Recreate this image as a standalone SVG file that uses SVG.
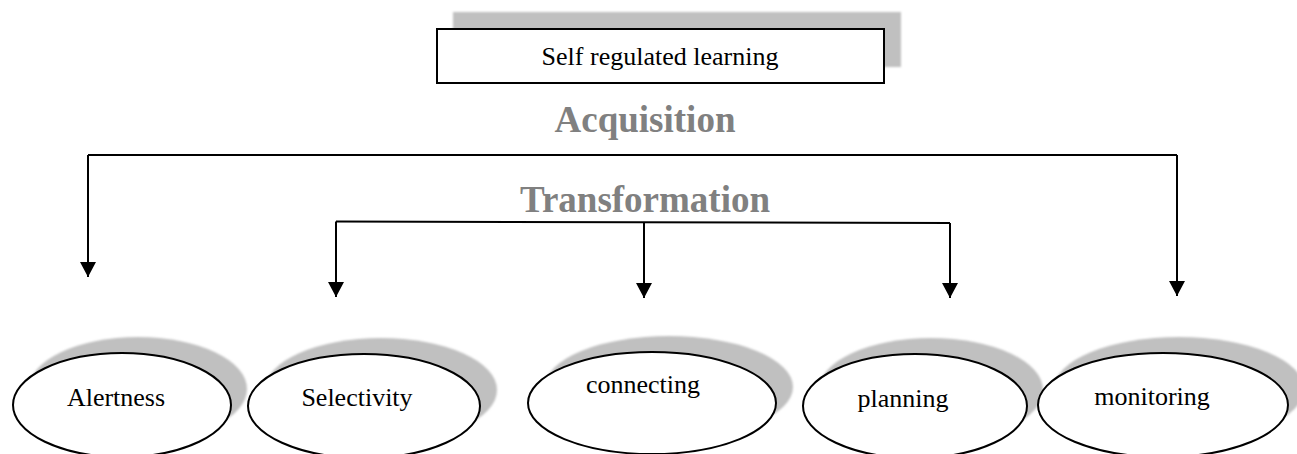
<svg xmlns="http://www.w3.org/2000/svg" width="1297" height="454" viewBox="0 0 1297 454">
  <style>
    .lbl { font-family: "Liberation Serif", "Times New Roman", serif; font-size: 26px; fill: #000; text-anchor: middle; }
    .ttl { font-family: "Liberation Serif", "Times New Roman", serif; font-size: 37px; font-weight: bold; fill: #808080; text-anchor: middle; }
    .node { fill: #fff; stroke: #000; stroke-width: 2; }
    .shadow { fill: #c0c0c0; filter: url(#soft); }
    .conn { fill: none; stroke: #000; stroke-width: 2; }
  </style>
  <defs>
    <filter id="soft" x="-10%" y="-10%" width="120%" height="120%">
      <feGaussianBlur stdDeviation="1.2"/>
    </filter>
    <marker id="arrow" viewBox="0 0 15 16" refX="15" refY="8" markerWidth="15" markerHeight="16" markerUnits="userSpaceOnUse" orient="auto">
      <path d="M0,0 L15,8 L0,16 z" fill="#000"/>
    </marker>
  </defs>
  <rect width="1297" height="454" fill="#fff"/>

  <g id="self-regulated-learning">
    <rect class="shadow" x="453" y="12" width="448" height="55"/>
    <rect class="node" x="437" y="29" width="447" height="54"/>
    <text class="lbl" x="660" y="65">Self regulated learning</text>
  </g>

  <g id="acquisition-label">
    <text class="ttl" x="645" y="132">Acquisition</text>
  </g>
  <g id="transformation-label">
    <text class="ttl" x="645" y="212">Transformation</text>
  </g>

  <g id="connectors">
    <path class="conn" d="M88,155 H1177" />
    <path class="conn" d="M88,155 V277" marker-end="url(#arrow)"/>
    <path class="conn" d="M1177,155 V296" marker-end="url(#arrow)"/>
    <path class="conn" d="M336,221.5 L950,223" />
    <path class="conn" d="M336,221.5 V297" marker-end="url(#arrow)"/>
    <path class="conn" d="M644,222 V298" marker-end="url(#arrow)"/>
    <path class="conn" d="M950,223 V298" marker-end="url(#arrow)"/>
  </g>

  <g id="alertness">
    <ellipse class="shadow" cx="138" cy="389" rx="109" ry="52"/>
    <ellipse class="node" cx="122" cy="405" rx="109" ry="52"/>
    <text class="lbl" x="116" y="406">Alertness</text>
  </g>
  <g id="selectivity">
    <ellipse class="shadow" cx="381" cy="390" rx="116" ry="52"/>
    <ellipse class="node" cx="364" cy="406" rx="116" ry="52"/>
    <text class="lbl" x="357" y="406">Selectivity</text>
  </g>
  <g id="connecting">
    <ellipse class="shadow" cx="669" cy="387" rx="124" ry="51"/>
    <ellipse class="node" cx="652" cy="403" rx="124" ry="51"/>
    <text class="lbl" x="643" y="393">connecting</text>
  </g>
  <g id="planning">
    <ellipse class="shadow" cx="931" cy="390" rx="112" ry="52"/>
    <ellipse class="node" cx="915" cy="406" rx="112" ry="52"/>
    <text class="lbl" x="903" y="407">planning</text>
  </g>
  <g id="monitoring">
    <ellipse class="shadow" cx="1179" cy="389" rx="125" ry="52"/>
    <ellipse class="node" cx="1163" cy="405" rx="125" ry="52"/>
    <text class="lbl" x="1152" y="405">monitoring</text>
  </g>
</svg>
